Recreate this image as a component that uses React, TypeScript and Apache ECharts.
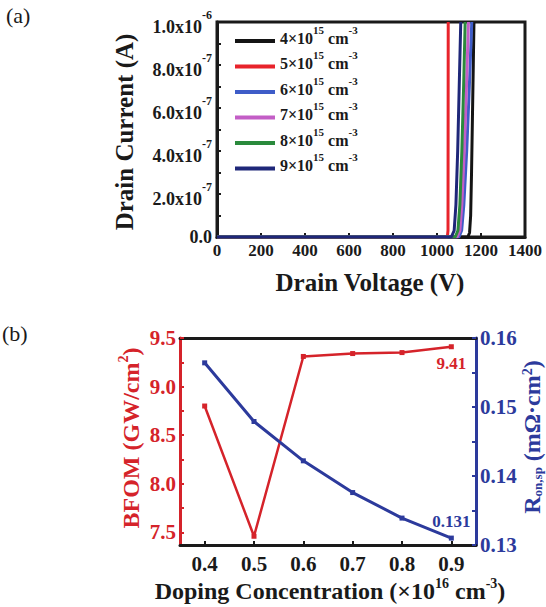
import React, { useEffect, useRef } from "react";
import * as echarts from "echarts";

const FONT = "'Liberation Serif', 'Times New Roman', serif";

// ---------- (a) data ----------
const voltageMax = 1400;
const currentTickLabels = [
  "{z|0.0}",
  "{m|2.0x10}{s|-7}",
  "{m|4.0x10}{s|-7}",
  "{m|6.0x10}{s|-7}",
  "{m|8.0x10}{s|-7}",
  "{m|1.0x10}{s|-6}",
];
const legendDoping = ["4", "5", "6", "7", "8", "9"];
const iv4 = [[0, 0], [1140, 0], [1148, 2e-8], [1153, 1e-7], [1157, 3e-7], [1161, 5.5e-7], [1165, 8e-7], [1168, 1e-6]];
const iv5 = [[0, 0], [1047, 0], [1050, 3e-8], [1051, 1e-6]];
const iv6 = [[0, 0], [1100, 0], [1112, 3e-8], [1122, 1.5e-7], [1135, 4e-7], [1147, 7e-7], [1158, 1e-6]];
const iv7 = [[0, 0], [1092, 0], [1104, 3e-8], [1113, 1.5e-7], [1124, 4e-7], [1134, 7e-7], [1143, 1e-6]];
const iv8 = [[0, 0], [1083, 0], [1095, 3e-8], [1104, 1.5e-7], [1113, 4e-7], [1121, 7e-7], [1128, 1e-6]];
const iv9 = [[0, 0], [1065, 0], [1078, 3e-8], [1086, 1.5e-7], [1094, 4e-7], [1101, 7e-7], [1108, 1e-6]];
const ivAll = [iv4, iv5, iv6, iv7, iv8, iv9];
const colorsA = ["#141414", "#e8232b", "#3e5cc8", "#c35ec6", "#2a8a3c", "#1f2779"];

// ---------- (b) data ----------
const dopingCats = ["0.4", "0.5", "0.6", "0.7", "0.8", "0.9"];
const bfom = [8.8, 7.46, 9.31, 9.34, 9.35, 9.41];
const ronsp = [0.1564, 0.1479, 0.1422, 0.1376, 0.1339, 0.131];
const bfomLabels = [7.5, 8.0, 8.5, 9.0, 9.5];
const bfomTicks = [7.5, 7.75, 8.0, 8.25, 8.5, 8.75, 9.0, 9.25, 9.5];

const RED = "#d5232a";
const BLUE = "#2c3a9c";
const INK = "#1a1a1a";

export default function App() {
  const ref = useRef<HTMLDivElement>(null);
  useEffect(() => {
    if (!ref.current) return;
    const chart = echarts.init(ref.current, null, { renderer: "svg" });
    const boldText = (size: number, color = INK) => ({
      fontFamily: FONT,
      fontWeight: "bold" as const,
      fontSize: size,
      color,
    });
    const option: any = {
      animation: false,
      backgroundColor: "#ffffff",
      grid: [
        { left: 217, top: 22, width: 308, height: 215, show: true, borderColor: INK, borderWidth: 3, backgroundColor: "transparent" },
        { left: 180, top: 338, width: 296, height: 207 },
      ],
      legend: {
        data: legendDoping.map((d) => `${d}×10^15 cm^-3`),
        orient: "vertical",
        left: 230,
        top: 19,
        padding: 5,
        itemWidth: 40,
        itemHeight: 4,
        itemGap: -0.5,
        icon: "rect",
        formatter: (name: string) => "{m|" + name.replace(/\^(\S+)/g, "}{s|$1}{m|") + "}",
        textStyle: {
          ...boldText(16),
          rich: {
            m: { ...boldText(16), lineHeight: 18, verticalAlign: "bottom", padding: [0, 0, 4, 0] },
            s: { ...boldText(11), lineHeight: 12, verticalAlign: "bottom", padding: [0, 0, 15, 0] },
          },
        },
      },
      xAxis: [
        {
          gridIndex: 0,
          type: "value",
          min: 0,
          max: voltageMax,
          interval: 200,
          axisLine: { show: true, lineStyle: { color: INK, width: 3 } },
          axisTick: { show: true, inside: true, length: 4, lineStyle: { color: INK, width: 2 } },
          axisLabel: { ...boldText(17), margin: 5, formatter: (v: number) => String(v) },
          splitLine: { show: false },
        },
        {
          gridIndex: 1,
          type: "category",
          data: dopingCats,
          boundaryGap: true,
          axisLine: { show: true, lineStyle: { color: INK, width: 3 } },
          axisTick: { show: true, inside: true, alignWithLabel: true, length: 4, lineStyle: { color: INK, width: 2 } },
          axisLabel: { ...boldText(21), margin: 8 },
          splitLine: { show: false },
        },
        {
          gridIndex: 1,
          type: "category",
          position: "top",
          data: dopingCats,
          axisLine: { show: true, lineStyle: { color: INK, width: 3 } },
          axisTick: { show: false },
          axisLabel: { show: false },
          splitLine: { show: false },
        },
      ],
      yAxis: [
        {
          gridIndex: 0,
          type: "value",
          min: 0,
          max: 1e-6,
          interval: 2e-7,
          axisLine: { show: true, lineStyle: { color: INK, width: 3 } },
          axisTick: { show: true, inside: true, length: 4, lineStyle: { color: INK, width: 2 } },
          minorTick: { show: true, splitNumber: 2, length: 4, lineStyle: { color: INK, width: 2 } },
          splitLine: { show: false },
          minorSplitLine: { show: false },
          axisLabel: {
            ...boldText(18),
            margin: 5,
            padding: [10, 0, 0, 0],
            formatter: (v: number) => currentTickLabels[Math.round(v / 2e-7)],
            rich: {
              m: { ...boldText(18), lineHeight: 18, verticalAlign: "bottom" },
              s: { ...boldText(12), lineHeight: 12, verticalAlign: "bottom", padding: [0, 0, 15, 0] },
              z: { ...boldText(18), lineHeight: 18, padding: [0, 0, 10, 0] },
            },
          },
        },
        {
          gridIndex: 1,
          type: "value",
          min: 7.37,
          max: 9.5,
          axisLine: { show: true, lineStyle: { color: RED, width: 3 } },
          axisTick: { show: true, inside: true, length: 4, customValues: bfomTicks, lineStyle: { color: RED, width: 2 } },
          axisLabel: { ...boldText(21, RED), margin: 4, customValues: bfomLabels, formatter: (v: number) => v.toFixed(1) },
          splitLine: { show: false },
        },
        {
          gridIndex: 1,
          type: "value",
          position: "right",
          min: 0.13,
          max: 0.16,
          interval: 0.01,
          axisLine: { show: true, lineStyle: { color: BLUE, width: 3 } },
          axisTick: { show: true, inside: true, length: 4, lineStyle: { color: BLUE, width: 2 } },
          minorTick: { show: true, splitNumber: 2, length: 4, lineStyle: { color: BLUE, width: 2 } },
          axisLabel: { ...boldText(21, BLUE), margin: 4, formatter: (v: number) => v.toFixed(2) },
          splitLine: { show: false },
          minorSplitLine: { show: false },
        },
      ],
      series: [
        ...ivAll.map((d, i) => ({
          type: "line",
          name: `${legendDoping[i]}×10^15 cm^-3`,
          xAxisIndex: 0,
          yAxisIndex: 0,
          data: d,
          showSymbol: false,
          symbol: "none",
          clip: true,
          color: colorsA[i],
          lineStyle: { color: colorsA[i], width: 3 },
        })),
        {
          type: "line",
          name: "BFOM",
          xAxisIndex: 1,
          yAxisIndex: 1,
          data: bfom,
          symbol: "rect",
          symbolSize: 5,
          color: RED,
          lineStyle: { color: RED, width: 2.5 },
          itemStyle: { color: RED },
          label: {
            show: true,
            position: "bottom",
            distance: 6,
            ...boldText(17, RED),
            formatter: (p: any) => (p.dataIndex === bfom.length - 1 ? String(p.value) : ""),
          },
        },
        {
          type: "line",
          name: "Ron",
          xAxisIndex: 1,
          yAxisIndex: 2,
          data: ronsp,
          symbol: "rect",
          symbolSize: 5,
          color: BLUE,
          lineStyle: { color: BLUE, width: 3 },
          itemStyle: { color: BLUE },
          label: {
            show: true,
            position: "top",
            distance: 6,
            ...boldText(17, BLUE),
            formatter: (p: any) => (p.dataIndex === ronsp.length - 1 ? String(p.value) : ""),
          },
        },
      ],
      graphic: [
        { type: "text", x: 6, y: 15, style: { text: "(a)", fontFamily: FONT, fontSize: 22, fill: INK, verticalAlign: "middle" } },
        { type: "text", x: 2, y: 333, style: { text: "(b)", fontFamily: FONT, fontSize: 22, fill: INK, verticalAlign: "middle" } },
        {
          type: "text", x: 370, y: 282,
          style: { text: "Drain Voltage (V)", fontFamily: FONT, fontWeight: "bold", fontSize: 25, fill: INK, align: "center", verticalAlign: "middle" },
        },
        {
          type: "text", x: 124, y: 132, rotation: Math.PI / 2,
          style: { text: "Drain Current (A)", fontFamily: FONT, fontWeight: "bold", fontSize: 25, fill: INK, align: "center", verticalAlign: "middle" },
        },
        {
          type: "text", x: 330, y: 591,
          style: {
            text: "{m|Doping Concentration (×10}{s|16}{m| cm}{s|-3}{m|)}",
            align: "center", verticalAlign: "middle", lineHeight: 30,
            rich: {
              m: { fontFamily: FONT, fontWeight: "bold", fontSize: 24, fill: INK, lineHeight: 24, verticalAlign: "bottom" },
              s: { fontFamily: FONT, fontWeight: "bold", fontSize: 14, fill: INK, lineHeight: 14, verticalAlign: "bottom", padding: [0, 0, 13, 0] },
            },
          },
        },
        {
          type: "text", x: 131, y: 438, rotation: Math.PI / 2,
          style: {
            text: "{m|BFOM (GW/cm}{s|2}{m|)}",
            align: "center", verticalAlign: "middle", lineHeight: 30,
            rich: {
              m: { fontFamily: FONT, fontWeight: "bold", fontSize: 24, fill: RED, lineHeight: 24, verticalAlign: "bottom" },
              s: { fontFamily: FONT, fontWeight: "bold", fontSize: 14, fill: RED, lineHeight: 14, verticalAlign: "bottom", padding: [0, 0, 13, 0] },
            },
          },
        },
        {
          type: "text", x: 532, y: 437, rotation: Math.PI / 2,
          style: {
            text: "{m|R}{d|on,sp}{m| (mΩ·cm}{s|2}{m|)}",
            align: "center", verticalAlign: "middle", lineHeight: 24,
            rich: {
              m: { fontFamily: FONT, fontWeight: "bold", fontSize: 24, fill: BLUE, lineHeight: 24, verticalAlign: "bottom" },
              s: { fontFamily: FONT, fontWeight: "bold", fontSize: 14, fill: BLUE, lineHeight: 14, verticalAlign: "bottom", padding: [0, 0, 10, 0] },
              d: { fontFamily: FONT, fontWeight: "bold", fontSize: 13, fill: BLUE, lineHeight: 13, verticalAlign: "bottom" },
            },
          },
        },
      ],
    };
    chart.setOption(option);
    return () => chart.dispose();
  }, []);
  return (
    <div
      ref={ref}
      style={{ position: "absolute", left: 0, top: 0, width: 546, height: 607, background: "#fff" }}
    />
  );
}
